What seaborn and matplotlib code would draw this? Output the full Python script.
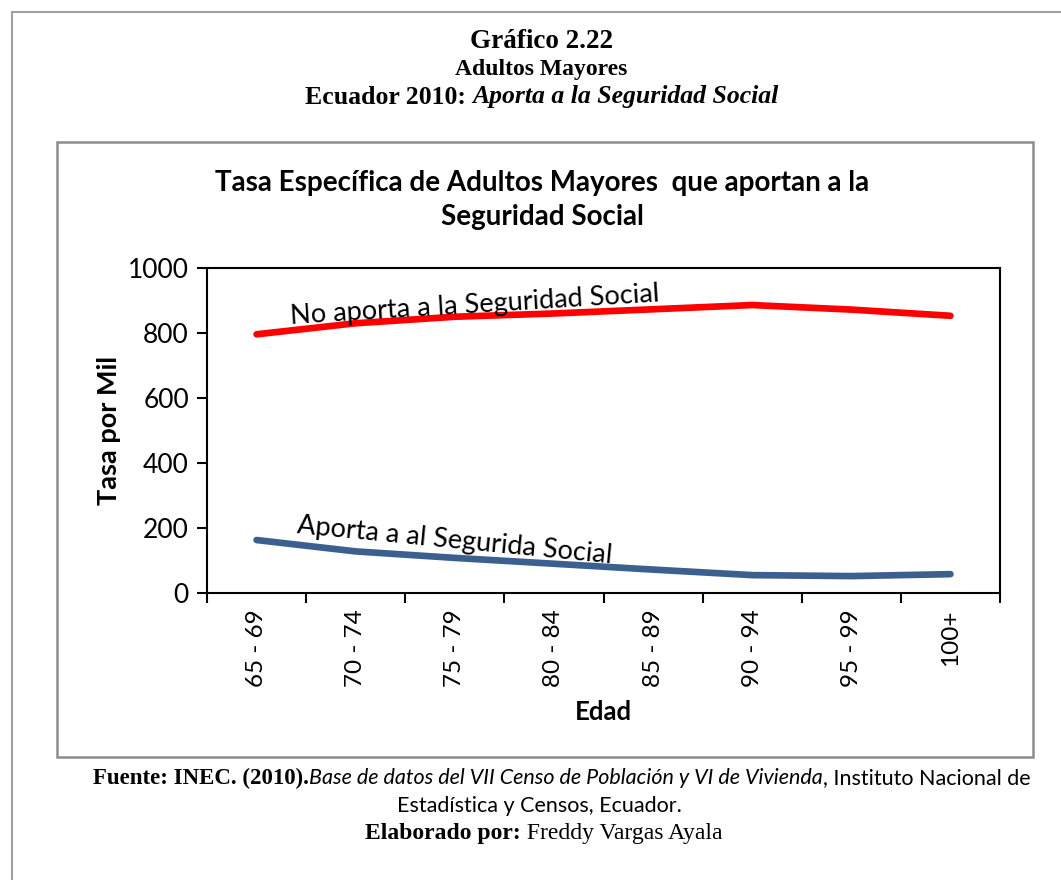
import numpy as np
import pandas as pd
import seaborn as sns
import matplotlib.pyplot as plt
from matplotlib.patches import Rectangle


# Data (tasa por mil)
edades = ["65 - 69", "70 - 74", "75 - 79", "80 - 84", "85 - 89", "90 - 94", "95 - 99", "100+"]
no_aporta = [796, 830, 850, 860, 873, 886, 872, 853]
aporta = [163, 128, 108, 90, 72, 55, 52, 58]

df = pd.DataFrame({"edad": list(range(len(edades))) * 2,
                   "tasa": no_aporta + aporta,
                   "serie": ["No aporta"] * len(edades) + ["Aporta"] * len(edades)})

sns.set_theme(style="white")
SANS = ["Lato", "DejaVu Sans"]
SERIF = ["Liberation Serif", "DejaVu Serif"]
plt.rcParams["font.family"] = SANS
plt.rcParams.update({"text.color": "black", "axes.labelcolor": "black",
                     "xtick.color": "black", "ytick.color": "black"})

W, H = 1061, 880
fig = plt.figure(figsize=(W / 100, H / 100), dpi=100)


def fx(px):
    return px / W


def fy(py):
    return 1 - py / H


# outer frame and inner chart frame
fig.patches.append(Rectangle((fx(12), fy(905)), fx(1080), 893 / H, transform=fig.transFigure,
                             fill=False, edgecolor="#a0a0a0", lw=1.5))
fig.patches.append(Rectangle((fx(57), fy(757)), fx(976), 615 / H, transform=fig.transFigure,
                             fill=False, edgecolor="#8c8c8c", lw=1.8))

ax = fig.add_axes([fx(207), fy(593), fx(1000 - 207), (593 - 268) / H])
sns.lineplot(data=df, x="edad", y="tasa", hue="serie", palette={"No aporta": "#ff0000", "Aporta": "#3b6090"},
             lw=4.8, legend=False, ax=ax, solid_capstyle="round", solid_joinstyle="round")

ax.set_xlim(-0.5, len(edades) - 0.5)
ax.set_ylim(0, 1000)
ax.set_yticks(range(0, 1001, 200))
ax.set_yticklabels([str(v) for v in range(0, 1001, 200)], fontsize=19)
ax.set_xticks(np.arange(-0.5, len(edades)))
ax.set_xticklabels([])
ax.set_xticks(range(len(edades)), minor=True)
ax.set_xticklabels(edades, minor=True, rotation=90, fontsize=17.5)
ax.tick_params(axis="x", which="major", direction="out", length=7, width=1.5, color="black", bottom=True)
ax.tick_params(axis="x", which="minor", length=0, pad=12)
ax.tick_params(axis="y", direction="out", length=7, width=1.5, color="black", left=True, pad=6)
for s in ax.spines.values():
    s.set_color("black")
    s.set_linewidth(1.5)
ax.set_xlabel("Edad", fontsize=18.5, fontweight="bold", labelpad=9)
ax.set_ylabel("Tasa por Mil", fontsize=19.5, fontweight="bold", labelpad=5)

# line labels
ax.text(2.2, 884, "No aporta a la Seguridad Social", fontsize=19.5, rotation=3.5, ha="center", va="center")
ax.text(2.0, 160, "Aporta a al Segurida Social", fontsize=19.5, rotation=-5.5, ha="center", va="center")

# chart title
fig.text(fx(542), fy(200), "Tasa Específica de Adultos Mayores  que aportan a la\nSeguridad Social",
         ha="center", va="center", fontsize=20, fontweight="bold", linespacing=1.42)

renderer = fig.canvas.get_renderer()


def line_of_text(cx, py, pieces):
    # place several text pieces side by side, centred on cx
    arts = []
    for txt, kw in pieces:
        t = fig.text(0, fy(py), txt, ha="left", va="center", **kw)
        arts.append(t)
    widths = [t.get_window_extent(renderer).width for t in arts]
    x = cx - sum(widths) / 2
    for t, w in zip(arts, widths):
        t.set_x(fx(x))
        x += w


line_of_text(541, 42, [("Gráfico 2.22", dict(family=SERIF, fontsize=19.5, fontweight="bold"))])
line_of_text(541, 70, [("Adultos Mayores", dict(family=SERIF, fontsize=17, fontweight="bold"))])
line_of_text(542, 97, [("Ecuador 2010: ", dict(family=SERIF, fontsize=18.5, fontweight="bold")),
                       ("Aporta a la Seguridad Social", dict(family=SERIF, fontsize=18.5, fontweight="bold", style="italic"))])
line_of_text(562, 778, [("Fuente: INEC. (2010).", dict(family=SERIF, fontsize=16.5, fontweight="bold")),
                        ("Base de datos del VII Censo de Población y VI de Vivienda", dict(family=SANS, fontsize=15.5, style="italic")),
                        (", Instituto Nacional de", dict(family=SANS, fontsize=15.5))])
line_of_text(539, 806, [("Estadística y Censos, Ecuador.", dict(family=SANS, fontsize=15.5))])
line_of_text(544, 833, [("Elaborado por:", dict(family=SERIF, fontsize=17, fontweight="bold")),
                        (" Freddy Vargas Ayala", dict(family=SERIF, fontsize=17))])

fig.savefig("out.png", dpi=100)
